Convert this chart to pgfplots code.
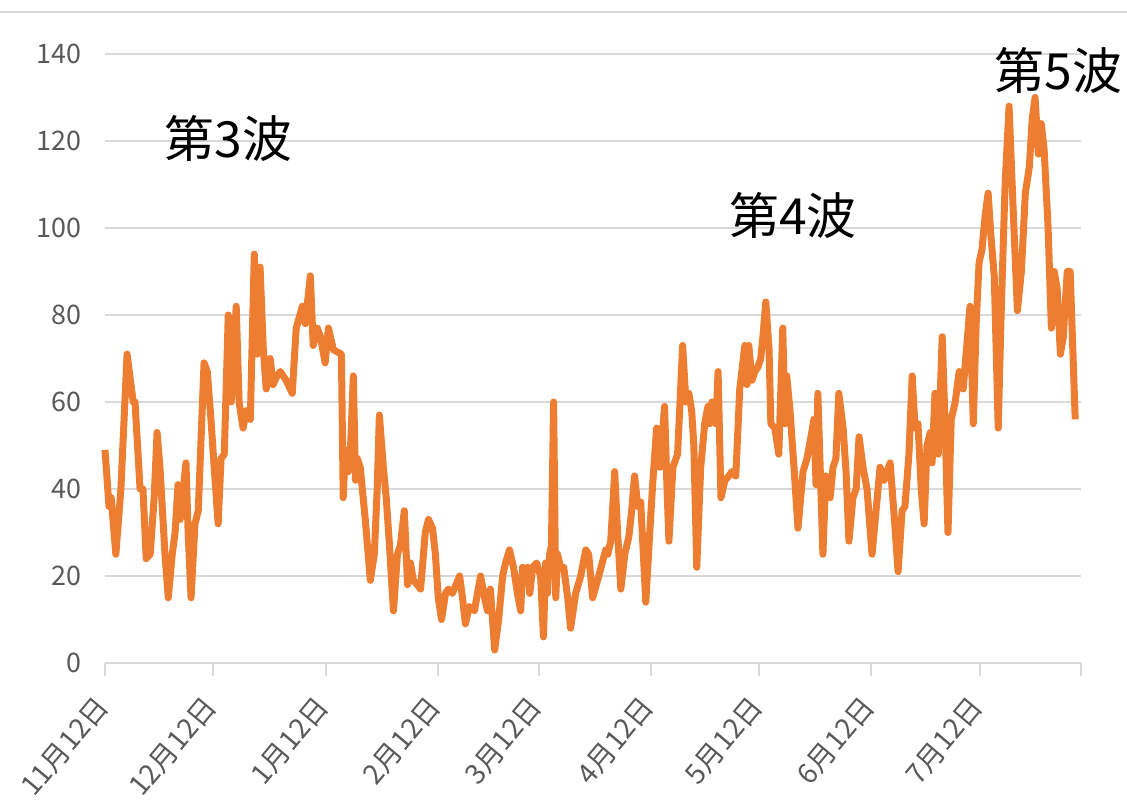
\documentclass[border=0pt]{standalone}
\usepackage{fontspec}
\setmainfont{Noto Sans CJK JP}
\usepackage{pgfplots}
\pgfplotsset{compat=1.18}
\definecolor{lineorange}{HTML}{ED7D31}
\definecolor{gridgray}{HTML}{D9D9D9}
\definecolor{labgray}{HTML}{595959}
\begin{document}
\begin{tikzpicture}
\path[use as bounding box] (-52.5bp,-72.5bp) rectangle (511bp,331.5bp);
\draw[gridgray, line width=1bp] (-52.5bp,325.5bp) -- (511bp,325.5bp);
\begin{axis}[
  at={(0,0)}, anchor=south west,
  scale only axis, width=488bp, height=304.5bp,
  xmin=0, xmax=270, ymin=0, ymax=140,
  ytick={0,20,...,140},
  ymajorgrids, grid style={gridgray, line width=1bp},
  axis x line*=bottom, axis y line*=left,
  x axis line style={gridgray, line width=1bp},
  y axis line style={draw=none},
  xtick={0,30,61,92,120,151,181,212,242,270},
  xticklabels={11月12日,12月12日,1月12日,2月12日,3月12日,4月12日,5月12日,6月12日,7月12日,{}},
  xtick style={gridgray, line width=1bp},
  ytick style={draw=none},
  tick align=outside, major tick length=6.5bp,
  /pgf/number format/assume math mode=true,
  yticklabel style={font=\fontsize{13.5}{15}\selectfont, text=labgray, xshift=-2bp},
  xticklabel style={font=\fontsize{14}{16}\selectfont, text=labgray, xshift=1bp, yshift=-10bp, rotate=50, anchor=east},
  clip=false,
]
\addplot[lineorange, line width=3.5bp, line join=round] coordinates {
(0.0,49)(1.1,36)(1.7,38)(3.0,25)(4.4,40)(6.1,71)(7.8,60)(8.3,60)(9.7,40)(10.5,40)
(11.4,24)(12.5,25)(13.6,38)(14.4,53)(15.2,45)(16.6,25)(17.5,15)(18.6,25)(19.4,30)(20.2,41)
(20.8,33)(22.4,46)(23.0,30)(23.8,15)(24.9,32)(25.8,35)(27.4,69)(28.3,67)(29.4,55)(30.2,45)
(31.3,32)(32.1,47)(33.0,48)(34.1,80)(34.9,60)(36.3,82)(37.1,60)(38.2,54)(39.1,58)(40.2,56)
(41.3,94)(42.1,71)(42.9,91)(43.8,72)(44.6,63)(45.7,70)(46.5,64)(47.6,66)(48.5,67)(50.1,65)
(51.8,62)(52.9,77)(54.6,82)(55.4,78)(56.8,89)(57.6,73)(58.7,77)(59.6,75)(60.9,69)(61.8,77)
(63.2,72)(65.4,71)(65.9,38)(66.5,49)(67.3,44)(67.9,49)(68.7,66)(69.3,42)(69.8,47)(70.6,45)
(72.0,33)(73.4,19)(74.5,25)(75.3,40)(75.9,57)(77.0,45)(77.8,38)(78.7,27)(79.8,12)(80.9,25)
(81.7,27)(82.8,35)(83.7,18)(84.5,23)(85.3,19)(86.4,18)(87.3,17)(88.6,30)(89.5,33)(90.6,31)
(91.4,25)(92.2,15)(93.1,10)(94.2,16)(95.0,17)(96.1,16)(98.1,20)(98.9,15)(99.7,9)(100.8,13)
(102.2,12)(103.9,20)(105.0,15)(105.8,12)(106.6,17)(107.8,3)(108.9,10)(110.0,20)(110.8,23)(111.9,26)
(113.0,22)(114.1,16)(115.0,12)(115.5,22)(116.3,19)(116.9,22)(117.5,16)(118.3,22)(119.4,23)(120.5,20)
(121.3,6)(121.9,23)(122.4,16)(123.0,25)(123.5,27)(124.1,60)(124.7,15)(125.2,25)(126.0,22)(126.9,22)
(128.0,15)(128.8,8)(130.2,16)(131.6,20)(133.0,26)(133.8,25)(134.9,15)(136.6,20)(138.5,26)(139.1,25)
(139.9,28)(140.4,35)(141.0,44)(141.8,30)(142.7,17)(143.8,25)(144.9,29)(145.7,35)(146.5,43)(147.4,36)
(148.2,37)(149.6,14)(150.7,30)(151.5,41)(152.6,54)(153.5,45)(154.8,59)(155.4,42)(156.0,28)(157.1,45)
(158.4,48)(159.8,73)(160.7,60)(161.5,62)(162.3,58)(162.9,50)(163.7,22)(164.8,45)(165.9,55)(166.8,59)
(167.3,55)(167.9,60)(169.0,55)(169.6,67)(170.4,38)(171.5,42)(172.6,43)(173.4,44)(174.5,43)(175.6,63)
(177.0,73)(177.6,64)(178.1,73)(179.0,65)(179.8,67)(180.6,68)(181.4,70)(182.0,75)(182.8,83)(183.7,72)
(184.2,55)(185.3,54)(186.4,48)(187.5,77)(188.1,55)(188.6,66)(189.5,58)(190.6,45)(191.7,31)(193.1,44)
(194.2,47)(195.3,52)(196.1,56)(196.7,41)(197.2,62)(198.6,25)(199.4,43)(200.6,38)(201.4,45)(202.2,47)
(203.0,62)(204.2,54)(205.0,44)(205.8,28)(206.9,38)(207.8,40)(208.6,52)(209.7,45)(210.8,40)(212.2,25)
(213.3,35)(214.4,45)(215.5,42)(216.3,44)(217.2,46)(218.3,34)(219.4,21)(220.5,35)(221.3,36)(222.4,48)
(223.3,66)(224.1,54)(224.9,55)(225.8,40)(226.6,32)(227.4,50)(228.3,53)(228.8,46)(229.6,62)(230.5,48)
(231.6,75)(232.4,55)(233.2,30)(234.1,56)(235.2,60)(236.3,67)(237.4,63)(238.2,71)(239.3,82)(240.2,55)
(241.0,78)(241.8,92)(242.6,95)(243.5,103)(244.3,108)(245.1,98)(246.0,89)(247.1,54)(247.9,80)(249.0,110)
(250.1,128)(251.2,105)(252.4,81)(253.5,90)(254.6,108)(255.7,114)(256.5,125)(257.3,130)(258.2,117)(259.0,124)
(259.8,118)(260.9,100)(261.8,77)(262.6,90)(263.4,86)(264.3,71)(265.1,75)(266.2,90)(267.0,90)(268.4,56)
};
\node[font=\fontsize{25}{28}\selectfont] at (axis cs:34.1,120.5) {第3波};
\node[font=\fontsize{25}{28}\selectfont] at (axis cs:190.3,102.8) {第4波};
\node[font=\fontsize{25}{28}\selectfont] at (axis cs:263.7,136.3) {第5波};
\end{axis}
\end{tikzpicture}
\end{document}
